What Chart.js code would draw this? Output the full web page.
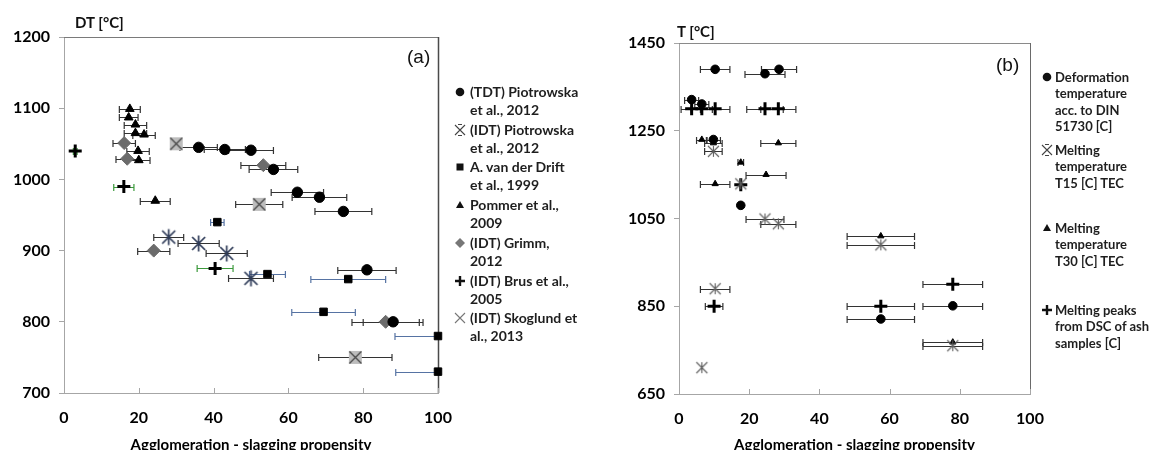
<!DOCTYPE html>
<html><head><meta charset="utf-8">
<script src="https://cdn.jsdelivr.net/npm/chart.js@4.4.0/dist/chart.umd.min.js"></script>
<style>
html,body{margin:0;padding:0;background:#fff;}
#wrap{position:relative;width:1152px;height:450px;overflow:hidden;background:#fff;}
canvas.chart{position:absolute;top:0;}
.lbl{position:absolute;font-family:Lato,'Open Sans',sans-serif;font-weight:700;color:#111;white-space:nowrap;line-height:1;}
.pan{position:absolute;font-family:'Liberation Sans',Arial,sans-serif;font-weight:400;color:#111;white-space:nowrap;line-height:1;}
.leg{position:absolute;font-family:Lato,sans-serif;font-weight:700;color:#1e1e1e;white-space:nowrap;}
.leg canvas{position:absolute;}
</style></head>
<body><div id="wrap">
<canvas id="ca" class="chart" width="468" height="470" style="left:0px"></canvas>
<canvas id="cb" class="chart" width="445" height="470" style="left:615px"></canvas>
<div class="lbl" style="left:75px;top:15px;font-size:15px">DT [°C]</div>
<div class="lbl" style="left:677px;top:24px;font-size:15px">T [°C]</div>
<div class="pan" style="left:407px;top:47px;font-size:19px">(a)</div>
<div class="pan" style="left:996px;top:55px;font-size:19px">(b)</div>
</div>
<script>
// ---------- axes ----------
const xTicks = [0, 20, 40, 60, 80, 100];
const yTicksA = [700, 800, 900, 1000, 1100, 1200];
const yTicksB = [650, 850, 1050, 1250, 1450];
const xTitle = 'Agglomeration - slagging propensity';

// ---------- panel (a) ----------
const tdtPioX   = [36, 43, 50, 56, 62.4, 68.3, 74.7, 81, 88];
const tdtPioY   = [1045, 1042, 1041, 1014, 982, 975, 955, 873, 800];
const tdtPioErr = [5, 5.5, 6, 6.5, 7, 7.3, 7.6, 7.8, 8];

const idtPioX   = [28, 36, 43.5, 50];
const idtPioY   = [919, 910, 896, 861];
const idtPioErr = [4, 5.5, 5.5, 6];

const driftX   = [41, 54.4, 69.4, 76, 100, 100];
const driftY   = [940, 867, 814, 860, 780, 730];
const driftErr = [1.8, 4.8, 8.5, 10, 11.5, 11.3];

const pommerX   = [17.6, 17.3, 19.1, 19.1, 21.4, 19.8, 20, 24.4];
const pommerY   = [1099, 1087, 1077, 1065, 1063, 1040, 1027, 970];
const pommerErr = [2.8, 2.5, 3, 3, 3, 3, 3, 4];

const grimmX   = [16.1, 16.9, 24, 53.3, 86];
const grimmY   = [1051, 1029, 900, 1020, 800];
const grimmErr = [3, 3, 4.3, 6, 9];

const brusX   = [3, 16, 40.4];
const brusY   = [1040, 990, 875];
const brusErr = [0.5, 2.7, 4.8];

const skogX   = [30, 52.2, 77.9];
const skogY   = [1050, 965, 750];
const skogErr = [0, 6.3, 9.8];

// ---------- panel (b) ----------
const defX   = [3.6, 6.5, 10.3, 9.8, 17.6, 24.5, 28.5, 57.5, 78];
const defY   = [1321, 1311, 1390, 1230, 1080, 1380, 1390, 821, 851];
const defErr = [2, 2, 4.2, 2, 0, 5.7, 5, 9.6, 8.5];

const t15X   = [6.5, 9.8, 10.3, 17.6, 24.5, 28.3, 57.5, 78];
const t15Y   = [710, 1203, 890, 1129, 1049, 1038, 990, 760];
const t15Err = [0, 2.5, 4.2, 0, 5.4, 5, 9.6, 8.5];

const t30X   = [6.5, 9.8, 10.3, 17.6, 24.8, 28.3, 57.5, 78];
const t30Y   = [1230, 1222, 1129, 1178, 1150, 1222, 1010, 768];
const t30Err = [1.5, 2.5, 4.2, 0.8, 5.7, 5, 9.6, 8.5];

const dscX   = [3.6, 6.5, 10.3, 24.5, 28.3, 17.6, 10, 57.5, 78];
const dscY   = [1300, 1300, 1300, 1300, 1300, 1127, 850, 850, 900];
const dscErr = [3, 3, 4.2, 5.2, 5, 0, 2.5, 9.6, 8.5];

// ---------- legends ----------
const legendA = [
  ['circle',  ['(TDT) Piotrowska', 'et al., 2012']],
  ['asterA',  ['(IDT) Piotrowska', 'et al., 2012']],
  ['square',  ['A. van der Drift', 'et al., 1999']],
  ['triangle',['Pommer et al.,', '2009']],
  ['diamond', ['(IDT) Grimm,', '2012']],
  ['plus',    ['(IDT) Brus et al.,', '2005']],
  ['xgray',   ['(IDT) Skoglund et', 'al., 2013']]
];
const legendB = [
  ['circle',  ['Deformation', 'temperature', 'acc. to DIN', '51730 [C]']],
  ['asterB',  ['Melting', 'temperature', 'T15 [C] TEC']],
  ['triangle',['Melting', 'temperature', 'T30 [C] TEC']],
  ['plus',    ['Melting peaks', 'from DSC of ash', 'samples [C]']]
];

// ---------- marker images ----------
function mk(size, draw) {
  const c = document.createElement('canvas');
  c.width = c.height = size;
  draw(c.getContext('2d'), size / 2);
  return c;
}
function starPath(g, c, r, vx) {
  g.beginPath();
  g.moveTo(c - r, c - r); g.lineTo(c + r, c + r);
  g.moveTo(c + r, c - r); g.lineTo(c - r, c + r);
  g.moveTo(c, c - r - vx); g.lineTo(c, c + r + vx);
  g.stroke();
}
const markAsterA = mk(19, (g, c) => { g.strokeStyle = '#2e3b58'; g.lineWidth = 1.7; starPath(g, c, 6.5, 1.5); });
const markSkog = mk(17, (g, c) => {
  g.fillStyle = '#bdbdbd'; g.fillRect(c - 6.5, c - 6.5, 13, 13);
  g.strokeStyle = '#4a4a4a'; g.lineWidth = 1.4;
  g.beginPath(); g.moveTo(c - 6, c - 6); g.lineTo(c + 6, c + 6); g.moveTo(c + 6, c - 6); g.lineTo(c - 6, c + 6); g.stroke();
});
const markAsterB = mk(15, (g, c) => { g.strokeStyle = '#5e5e5e'; g.lineWidth = 1.1; starPath(g, c, 5.5, 0); });

// ---------- plugins ----------
const errorBars = {
  id: 'errorBars',
  beforeDatasetsDraw(chart) {
    const {ctx, chartArea: a, scales: {x, y}} = chart;
    ctx.save();
    ctx.beginPath(); ctx.rect(a.left, a.top - 5, a.right - a.left + 1, a.bottom - a.top + 10); ctx.clip();
    chart.data.datasets.forEach(ds => {
      if (!ds.errX) return;
      ctx.strokeStyle = ds.errColor; ctx.lineWidth = 1.2;
      ds.data.forEach((p, i) => {
        const e = ds.errX[i];
        if (!e) return;
        const x1 = x.getPixelForValue(p.x - e), x2 = x.getPixelForValue(p.x + e);
        const py = Math.round(y.getPixelForValue(p.y)) + 0.5;
        ctx.beginPath();
        ctx.moveTo(x1, py); ctx.lineTo(x2, py);
        ctx.moveTo(x1, py - 3.5); ctx.lineTo(x1, py + 3.5);
        ctx.moveTo(x2, py - 3.5); ctx.lineTo(x2, py + 3.5);
        ctx.stroke();
      });
    });
    ctx.restore();
  }
};
const frame = {
  id: 'frame',
  beforeDatasetsDraw(chart, args, opts) {
    const {ctx, chartArea: a, scales: {x}} = chart;
    ctx.save();
    ctx.lineWidth = 1;
    ctx.strokeStyle = opts.top;
    ctx.beginPath(); ctx.moveTo(a.left, Math.round(a.top) + 0.5); ctx.lineTo(a.right, Math.round(a.top) + 0.5); ctx.stroke();
    ctx.strokeStyle = opts.right; ctx.lineWidth = opts.rw;
    ctx.beginPath(); ctx.moveTo(Math.round(a.right) + 0.5, a.top); ctx.lineTo(Math.round(a.right) + 0.5, a.bottom); ctx.stroke();
    ctx.strokeStyle = '#a6a6a6'; ctx.lineWidth = 1;
    x.ticks.forEach(t => {
      const px = Math.round(x.getPixelForValue(t.value)) + 0.5;
      ctx.beginPath(); ctx.moveTo(px, a.bottom); ctx.lineTo(px, a.bottom - 5); ctx.stroke();
    });
    ctx.restore();
  }
};

const pts = (xs, ys) => xs.map((v, i) => ({x: v, y: ys[i]}));
const tickFont = {family: 'Lato', weight: 'bold', size: 16};

function makeChart(id, datasets, yTicks, yMin, yMax, pad, xHeight, frameOpts) {
  return new Chart(document.getElementById(id), {
    type: 'scatter',
    data: {datasets},
    plugins: [frame, errorBars],
    options: {
      responsive: false, animation: false,
      layout: {padding: pad},
      plugins: {legend: {display: false}, tooltip: {enabled: false}, frame: frameOpts},
      scales: {
        x: {
          type: 'linear', min: 0, max: 100,
          afterBuildTicks: s => { s.ticks = xTicks.map(v => ({value: v})); },
          afterFit: s => { s.height = xHeight; },
          grid: {drawOnChartArea: false, drawTicks: false},
          border: {color: '#a6a6a6', width: 1},
          ticks: {padding: 15, font: tickFont, color: '#000', maxRotation: 0, autoSkip: false, callback: v => String(v)},
          title: {display: true, text: xTitle, color: '#000', font: {family: 'Lato', weight: 'bold', size: 15}, padding: {top: 0, bottom: 16}}
        },
        y: {
          type: 'linear', min: yMin, max: yMax,
          afterBuildTicks: s => { s.ticks = yTicks.map(v => ({value: v})); },
          afterFit: s => { s.width = 64; },
          grid: {drawOnChartArea: false, drawTicks: true, tickLength: 5, color: '#a6a6a6'},
          border: {color: '#a6a6a6', width: 1},
          ticks: {padding: 9, font: tickFont, color: '#000', autoSkip: false, callback: v => String(v)}
        }
      }
    }
  });
}

const common = {clip: false, borderWidth: 1, pointHoverRadius: 0};
const errBlack = '#333333';

makeChart('ca', [
  {...common, data: pts(tdtPioX, tdtPioY), errX: tdtPioErr, errColor: errBlack, pointStyle: 'circle', pointRadius: 5.2, backgroundColor: '#000', borderColor: '#000'},
  {...common, data: pts(idtPioX, idtPioY), errX: idtPioErr, errColor: errBlack, pointStyle: markAsterA, pointRadius: 9},
  {...common, data: pts(driftX, driftY), errX: driftErr, errColor: '#5673a3', pointStyle: 'rect', pointRadius: 5.3, backgroundColor: '#000', borderColor: '#000'},
  {...common, data: pts(pommerX, pommerY), errX: pommerErr, errColor: errBlack, pointStyle: 'triangle', pointRadius: 5, backgroundColor: '#000', borderColor: '#000'},
  {...common, data: pts(grimmX, grimmY), errX: grimmErr, errColor: errBlack, pointStyle: 'rectRot', pointRadius: 6.5, backgroundColor: '#6b6b6b', borderColor: '#6b6b6b'},
  {...common, data: pts(brusX, brusY), errX: brusErr, errColor: '#3c9a3c', pointStyle: 'cross', pointRadius: 6.5, borderWidth: 3, backgroundColor: '#000', borderColor: '#000'},
  {...common, data: pts(skogX, skogY), errX: skogErr, errColor: errBlack, pointStyle: markSkog, pointRadius: 8}
], yTicksA, 700, 1200, {top: 37, right: 30, left: 0, bottom: 0}, 77, {top: '#7a7a7a', right: '#4a4a4a', rw: 1.5});

makeChart('cb', [
  {...common, data: pts(defX, defY), errX: defErr, errColor: errBlack, pointStyle: 'circle', pointRadius: 4.3, backgroundColor: '#000', borderColor: '#000'},
  {...common, data: pts(t15X, t15Y), errX: t15Err, errColor: errBlack, pointStyle: markAsterB, pointRadius: 7},
  {...common, data: pts(t30X, t30Y), errX: t30Err, errColor: errBlack, pointStyle: 'triangle', pointRadius: 3.6, backgroundColor: '#000', borderColor: '#000'},
  {...common, data: pts(dscX, dscY), errX: dscErr, errColor: errBlack, pointStyle: 'cross', pointRadius: 6.5, borderWidth: 3, backgroundColor: '#000', borderColor: '#000'}
], yTicksB, 650, 1450, {top: 43, right: 30, left: 0, bottom: 0}, 76, {top: '#8a8a8a', right: '#6a6a6a', rw: 1});

// ---------- HTML legends ----------
function legendMarker(type) {
  const c = document.createElement('canvas');
  c.width = c.height = 14;
  const g = c.getContext('2d');
  const m = 7;
  g.fillStyle = '#111'; g.strokeStyle = '#111';
  if (type === 'circle') { g.beginPath(); g.arc(m, m, 4.3, 0, Math.PI * 2); g.fill(); }
  else if (type === 'square') { g.fillRect(m - 3.5, m - 3.5, 7, 7); }
  else if (type === 'triangle') { g.beginPath(); g.moveTo(m, m - 4); g.lineTo(m + 4, m + 3); g.lineTo(m - 4, m + 3); g.closePath(); g.fill(); }
  else if (type === 'diamond') { g.fillStyle = '#777'; g.beginPath(); g.moveTo(m, m - 5); g.lineTo(m + 5, m); g.lineTo(m, m + 5); g.lineTo(m - 5, m); g.closePath(); g.fill(); }
  else if (type === 'plus') { g.lineWidth = 2.4; g.beginPath(); g.moveTo(m - 5, m); g.lineTo(m + 5, m); g.moveTo(m, m - 5); g.lineTo(m, m + 5); g.stroke(); }
  else if (type === 'asterA' || type === 'asterB' || type === 'xgray') {
    g.strokeStyle = type === 'xgray' ? '#777' : '#444'; g.lineWidth = 1.1;
    g.beginPath(); g.moveTo(m - 5, m - 5); g.lineTo(m + 5, m + 5); g.moveTo(m + 5, m - 5); g.lineTo(m - 5, m + 5);
    if (type !== 'xgray') { g.moveTo(m - 2, m - 5.5); g.lineTo(m + 2, m - 5.5); g.moveTo(m - 2, m + 5.5); g.lineTo(m + 2, m + 5.5); }
    g.stroke();
  }
  return c;
}
function buildLegend(entries, tops, left, textOffset, fontSize, lh) {
  const wrap = document.getElementById('wrap');
  entries.forEach(([type, lines], i) => {
    const d = document.createElement('div');
    d.className = 'leg';
    d.style.left = left + 'px';
    d.style.top = tops[i] + 'px';
    d.style.fontSize = fontSize + 'px';
    d.style.lineHeight = lh + 'px';
    d.style.paddingLeft = textOffset + 'px';
    const c = legendMarker(type);
    c.style.left = '0px';
    c.style.top = (lh / 2 - 7) + 'px';
    d.appendChild(c);
    lines.forEach((t, k) => {
      if (k) d.appendChild(document.createElement('br'));
      d.appendChild(document.createTextNode(t));
    });
    wrap.appendChild(d);
  });
}
buildLegend(legendA, [82.6, 120.6, 157.6, 195.6, 233.6, 271.6, 308.6], 453, 17, 14, 18.8);
buildLegend(legendB, [68.8, 141.8, 219.8, 301.8], 1040, 15, 13, 16.4);
</script>
</body></html>
